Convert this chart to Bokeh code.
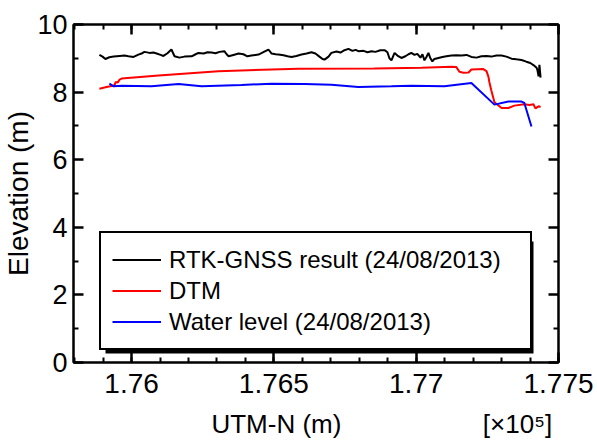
from bokeh.plotting import figure
from bokeh.models import (Range1d, LinearAxis, FixedTicker, Legend, LegendItem,
                          BoxAnnotation)
from bokeh.embed import file_html
from bokeh.resources import INLINE

FONT = "Liberation Sans"

# RTK-GNSS elevation profile (24/08/2013)
gnss_n = [175887, 175898, 175908, 175922, 175937, 175958, 175975, 175989, 176007, 176024,
          176035, 176045, 176063, 176077, 176088, 176102, 176112, 176126, 176140, 176151,
          176168, 176186, 176211, 176225, 176235, 176253, 176267, 176281, 176295, 176309,
          176326, 176334, 176341, 176358, 176376, 176393, 176407, 176421, 176435, 176446,
          176463, 176481, 176492, 176506, 176516, 176534, 176548, 176562, 176579, 176597,
          176615, 176632, 176646, 176660, 176671, 176678, 176692, 176702, 176720, 176734,
          176748, 176762, 176776, 176787, 176797, 176815, 176829, 176843, 176857, 176874,
          176889, 176899, 176906, 176913, 176924, 176934, 176948, 176962, 176973, 176983,
          176994, 177004, 177015, 177022, 177029, 177036, 177043, 177050, 177057, 177064,
          177078, 177092, 177106, 177124, 177141, 177159, 177177, 177194, 177212, 177229,
          177247, 177264, 177282, 177300, 177317, 177335, 177352, 177370, 177387, 177401,
          177412, 177423, 177426, 177430, 177433, 177437]
gnss_z = [9.10, 9.05, 8.98, 9.03, 9.05, 9.07, 9.08, 9.06, 9.04, 9.11,
          9.14, 9.19, 9.16, 9.17, 9.14, 9.10, 9.07, 9.15, 9.26, 9.06,
          9.02, 9.05, 9.06, 9.12, 9.16, 9.14, 9.18, 9.17, 9.15, 9.19,
          9.21, 9.12, 9.06, 9.10, 9.14, 9.12, 9.06, 9.08, 9.10, 9.11,
          9.18, 9.26, 9.14, 9.12, 9.11, 9.09, 9.06, 9.04, 9.07, 9.11,
          9.14, 9.18, 9.14, 9.05, 8.98, 8.96, 9.05, 9.16, 9.20, 9.17,
          9.24, 9.28, 9.22, 9.25, 9.21, 9.22, 9.18, 9.21, 9.19, 9.24,
          9.24, 9.18, 9.00, 8.94, 9.16, 9.08, 9.01, 9.06, 9.12, 9.16,
          9.10, 9.13, 9.02, 9.12, 8.94, 9.04, 9.16, 9.00, 8.91, 8.98,
          9.01, 9.04, 9.06, 9.08, 9.09, 9.08, 9.10, 9.04, 9.02, 9.06,
          9.07, 9.05, 9.08, 9.08, 9.05, 8.99, 8.97, 8.95, 8.90, 8.86,
          8.80, 8.72, 8.65, 8.47, 8.81, 8.43]

# DTM elevation along the same profile
dtm_n = [175887, 175912, 175930, 175940, 175944, 175951, 175958, 175965, 176095, 176305,
         176586, 176853, 177019, 177124, 177141, 177152, 177166, 177184, 177194, 177236,
         177247, 177254, 177257, 177264, 177275, 177300, 177324, 177345, 177380, 177398,
         177412, 177419, 177430, 177437]
dtm_z = [8.10, 8.15, 8.18, 8.20, 8.30, 8.28, 8.37, 8.40, 8.49, 8.62,
         8.69, 8.70, 8.72, 8.75, 8.74, 8.60, 8.57, 8.58, 8.67, 8.68,
         8.62, 8.45, 8.30, 8.05, 7.70, 7.53, 7.53, 7.60, 7.64, 7.62,
         7.64, 7.52, 7.58, 7.56]

# Water level (24/08/2013)
water_n = [175922, 175937, 175965, 176070, 176165, 176246, 176386, 176492, 176608, 176702,
           176797, 176913, 176983, 177099, 177194, 177275, 177324, 177370, 177380, 177405]
water_z = [8.25, 8.17, 8.19, 8.17, 8.24, 8.17, 8.21, 8.25, 8.24, 8.22,
           8.15, 8.17, 8.19, 8.17, 8.27, 7.63, 7.72, 7.72, 7.68, 6.98]

X_START, X_END = 175796, 177500
Y_START, Y_END = 0, 10
x_major = [176000, 176500, 177000, 177500]
x_major_labels = ["1.76", "1.765", "1.77", "1.775"]
x_minor = list(range(175800, 177501, 100))
y_major = [0, 2, 4, 6, 8, 10]
y_minor = [1, 3, 5, 7, 9]

series_labels = ["RTK-GNSS result (24/08/2013)", "DTM", "Water level (24/08/2013)"]
series_colors = ["#000000", "#ff0000", "#0000ff"]

# second row under the axis: title and the exponent of the tick labels
x_title_pos = [176509, 177356]
x_title_text = ["UTM-N (m)", "[×10⁵]"]

W, H = 597, 442
BL, BR, BT, BB = 72, 39, 24, 80
p = figure(width=W, height=H, output_backend="svg", toolbar_location=None,
           x_range=Range1d(X_START, X_END), y_range=Range1d(Y_START, Y_END),
           x_axis_type=None, y_axis_type=None,
           min_border_left=BL, min_border_right=BR, min_border_top=BT, min_border_bottom=BB)
p.background_fill_color = "white"
p.border_fill_color = "white"
p.xgrid.visible = False
p.ygrid.visible = False
p.outline_line_color = "black"
p.outline_line_width = 2
p.outline_line_alpha = 1

x_ticker = FixedTicker(ticks=x_major, minor_ticks=x_minor)
y_ticker = FixedTicker(ticks=y_major, minor_ticks=y_minor)


def frame_axis(ax, size, standoff, ticks=True):
    """Axis with inward ticks (or bare labels when ticks=False)."""
    ax.axis_line_color = "black" if ticks else None
    ax.axis_line_width = 2
    ax.major_tick_line_color = "black" if ticks else None
    ax.minor_tick_line_color = "black" if ticks else None
    ax.major_tick_line_width = 2.5
    ax.minor_tick_line_width = 2
    ax.major_tick_in = 10 if ticks else 0
    ax.major_tick_out = 0
    ax.minor_tick_in = 5 if ticks else 0
    ax.minor_tick_out = 0
    ax.major_label_standoff = standoff
    ax.major_label_text_font = FONT
    ax.major_label_text_font_size = size
    ax.major_label_text_color = "black"


xb = LinearAxis(ticker=x_ticker, major_label_overrides=dict(zip(x_major, x_major_labels)))
frame_axis(xb, "28px", 11)
p.add_layout(xb, "below")

xb2 = LinearAxis(ticker=FixedTicker(ticks=x_title_pos, minor_ticks=[]),
                 major_label_overrides=dict(zip(x_title_pos, x_title_text)))
frame_axis(xb2, "26px", 13, ticks=False)
p.add_layout(xb2, "below")

yl = LinearAxis(ticker=y_ticker, axis_label="Elevation (m)")
frame_axis(yl, "27px", 6)
yl.axis_label_standoff = 0
yl.axis_label_text_font = FONT
yl.axis_label_text_font_size = "28px"
yl.axis_label_text_font_style = "normal"
yl.axis_label_text_color = "black"
p.add_layout(yl, "left")

# mirrored tick marks on the top and right edges, without labels
xt = LinearAxis(ticker=x_ticker, major_label_overrides={t: "" for t in x_major})
frame_axis(xt, "0px", 0)
p.add_layout(xt, "above")
yr = LinearAxis(ticker=y_ticker, major_label_overrides={t: "" for t in y_major})
frame_axis(yr, "0px", 0)
p.add_layout(yr, "right")

r_gnss = p.line(gnss_n, gnss_z, line_color=series_colors[0], line_width=2)
r_dtm = p.line(dtm_n, dtm_z, line_color=series_colors[1], line_width=2)
r_water = p.line(water_n, water_z, line_color=series_colors[2], line_width=2)

# legend with a drop shadow
LEG_X, LEG_Y, LEG_W, LEG_H, SH = 26, 12, 429, 115, 3
p.add_layout(BoxAnnotation(left=LEG_X + 2 * SH, right=LEG_X + LEG_W + SH + 2,
                           bottom=LEG_Y - SH, top=LEG_Y + LEG_H - 2 * SH,
                           left_units="screen", right_units="screen",
                           bottom_units="screen", top_units="screen",
                           fill_color="black", fill_alpha=1, line_color=None))

legend = Legend(items=[LegendItem(label=series_labels[0], renderers=[r_gnss]),
                       LegendItem(label=series_labels[1], renderers=[r_dtm]),
                       LegendItem(label=series_labels[2], renderers=[r_water])],
                location=(LEG_X, LEG_Y), padding=11, spacing=0, margin=0,
                label_height=31, glyph_height=31, glyph_width=49, label_standoff=8,
                label_width=350, label_text_font=FONT, label_text_font_size="24px",
                label_text_color="black", border_line_color="black", border_line_width=2,
                border_line_alpha=1, background_fill_color="white", background_fill_alpha=1)
p.add_layout(legend, "center")

open("out.html", "w").write(file_html(p, INLINE))
